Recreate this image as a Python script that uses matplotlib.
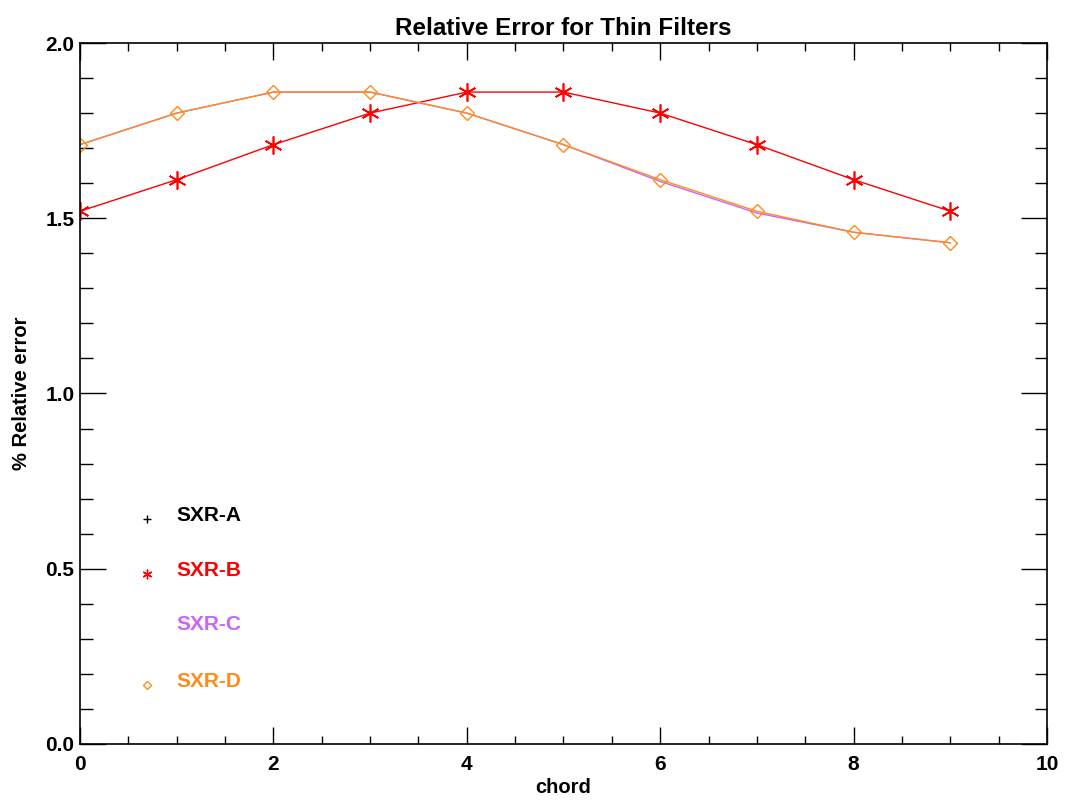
import numpy as np
import matplotlib.pyplot as plt
from matplotlib.ticker import MultipleLocator

# relative error per chord for each SXR array (thin filters)
chord = np.arange(10)
sxr_b = [1.52, 1.61, 1.71, 1.80, 1.86, 1.86, 1.80, 1.71, 1.61, 1.52]
sxr_c = [1.71, 1.80, 1.86, 1.86, 1.80, 1.71, 1.605, 1.515, 1.46, 1.43]
sxr_d = [1.71, 1.80, 1.86, 1.86, 1.80, 1.71, 1.61, 1.52, 1.46, 1.43]

names = ['SXR-A', 'SXR-B', 'SXR-C', 'SXR-D']
colors = ['black', '#ff0000', '#c864ff', '#ff8c1a']
key_y = [0.653, 0.496, 0.340, 0.177]

plt.rcParams['font.family'] = ['Liberation Sans', 'DejaVu Sans']

fig = plt.figure(figsize=(10.65, 8.01), dpi=100)
ax = fig.add_axes([0.0751, 0.0712, 0.9080, 0.8751])

star = (6, 2, 0)
ax.plot(chord, sxr_b, color=colors[1], lw=1.0, marker=star, ms=13, mew=1.2)
ax.plot(chord, sxr_c, color=colors[2], lw=1.0)
ax.plot(chord, sxr_d, color=colors[3], lw=1.0, marker='D', ms=7.5, mfc='none', mew=1.0)

# hand-drawn key, IDL style
key_marks = ['+', star, None, 'D']
key_ms = [6, 7, 0, 4]
for y, name, c, m, s in zip(key_y, names, colors, key_marks, key_ms):
    if m is not None:
        ax.plot([0.693], [y - 0.01], marker=m, ms=s, color=c,
                mfc='none' if m == 'D' else c, mew=1, ls='none')
    ax.text(1.0, y, name, color=c, fontsize=15, fontweight='bold', va='center', ha='left')

ax.set_xlim(0, 10)
ax.set_ylim(0, 2.0)
ax.xaxis.set_major_locator(MultipleLocator(2))
ax.xaxis.set_minor_locator(MultipleLocator(0.5))
ax.yaxis.set_major_locator(MultipleLocator(0.5))
ax.yaxis.set_minor_locator(MultipleLocator(0.1))
ax.yaxis.set_major_formatter(plt.FormatStrFormatter('%.1f'))
ax.tick_params(axis='x', which='major', direction='in', length=12, width=1, top=True,
               labelsize=15, pad=8)
ax.tick_params(axis='x', which='minor', direction='in', length=6, width=1, top=True)
ax.tick_params(axis='y', which='major', direction='in', length=19, width=1, right=True,
               labelsize=15, pad=4)
ax.tick_params(axis='y', which='minor', direction='in', length=9, width=1, right=True)
for lab in ax.get_xticklabels() + ax.get_yticklabels():
    lab.set_fontweight('bold')
for sp in ax.spines.values():
    sp.set_linewidth(1.2)

ax.set_title('Relative Error for Thin Filters', fontsize=17.5, fontweight='bold', pad=6)
ax.set_xlabel('chord', fontsize=14.5, fontweight='bold', labelpad=3)
ax.set_ylabel('% Relative error', fontsize=14.5, fontweight='bold', labelpad=10)

fig.savefig('out.png', dpi=100)
